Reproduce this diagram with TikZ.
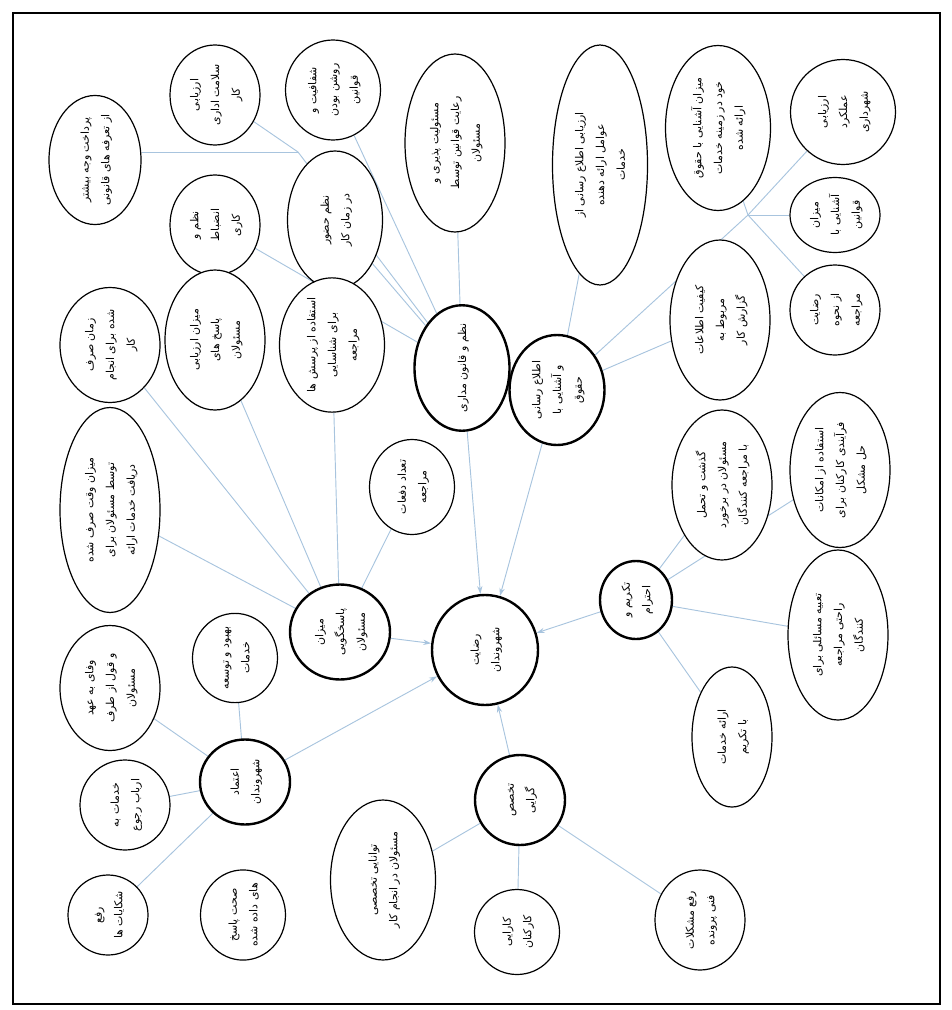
\documentclass[tikz,border=0pt]{standalone}
\usepackage{graphicx}
\usepackage{fontspec}
\newfontfamily\fa[Script=Arabic]{DejaVu Sans}
\TeXXeTstate=1
\usetikzlibrary{shapes.geometric,arrows.meta}
\pgfdeclarelayer{bg}
\pgfsetlayers{bg,main}
\definecolor{linkblue}{RGB}{168,196,222}
\newcommand{\rl}[1]{\beginR #1\endR}
\newcommand{\vt}[1]{\rotatebox{90}{\fa\fontsize{8.2}{15.5}\selectfont\begin{tabular}{@{}c@{}}#1\end{tabular}}}
\begin{document}
\begin{tikzpicture}[x=0.75pt,y=-0.75pt,
  sz/.style 2 args={minimum width={#1*0.75pt},minimum height={#2*0.75pt}},
  outer/.style={ellipse,draw,line width=0.9pt,inner sep=0pt,fill=white},
  cat/.style={ellipse,draw,line width=1.8pt,inner sep=0pt,fill=white},
  lk/.style={draw=linkblue,line width=0.7pt},
  ar/.style={lk,-{Stealth[length=6pt,width=4pt]}}]
\useasboundingbox (0,0) rectangle (952,1010);
\draw[line width=1.2pt] (13,13) rectangle (940,1004);

% junction coordinates
\coordinate (J0) at (298,152);
\coordinate (J1) at (748,215);

% ---- category nodes
\node[cat,sz={106}{110}] (C) at (485,650) {\vt{\rl{رضایت}\\\rl{شهروندان}}};
\node[cat,sz={100}{95}] (P) at (340,632) {\vt{\rl{میزان}\\\rl{پاسخگویی}\\\rl{مسئولان}}};
\node[cat,sz={95}{125}] (N) at (462,368) {\vt{\rl{نظم و قانون مداری}}};
\node[cat,sz={95}{110}] (I) at (557,390) {\vt{\rl{اطلاع رسانی}\\\rl{و آشنایی با}\\\rl{حقوق}}};
\node[cat,sz={72}{78}] (T) at (636,600) {\vt{\rl{تکریم و}\\\rl{احترام}}};
\node[cat,sz={90}{85}] (A) at (245,782) {\vt{\rl{اعتماد}\\\rl{شهروندان}}};
\node[cat,sz={90}{90}] (S) at (520,800) {\vt{\rl{تخصص}\\\rl{گرایی}}};

% ---- outer nodes
\node[outer,sz={92}{125}] (o1) at (95,160) {\vt{\rl{پرداخت وجه بیشتر}\\\rl{از تعرفه های قانونی}}};
\node[outer,sz={90}{100}] (o2) at (215,95) {\vt{\rl{ارزیابی}\\\rl{سلامت اداری}\\\rl{کار}}};
\node[outer,sz={95}{100}] (o3) at (333,90) {\vt{\rl{شفافیت و}\\\rl{روشن بودن}\\\rl{قوانین}}};
\node[outer,sz={100}{178}] (o4) at (455,143) {\vt{\rl{مسئولیت پذیری و}\\\rl{رعایت قوانین توسط}\\\rl{مسئولان}}};
\node[outer,sz={90}{100}] (o5) at (215,225) {\vt{\rl{نظم و}\\\rl{انضباط}\\\rl{کاری}}};
\node[outer,sz={95}{138}] (o6) at (335,220) {\vt{\rl{نظم حضور}\\\rl{در زمان کار}}};
\node[outer,sz={95}{240}] (o7) at (600,165) {\vt{\rl{ارزیابی اطلاع رسانی از}\\\rl{عوامل ارائه دهنده}\\\rl{خدمات}}};
\node[outer,sz={105}{165}] (o8) at (718,128) {\vt{\rl{میزان آشنایی با حقوق}\\\rl{خود در زمینه خدمات}\\\rl{ارائه شده}}};
\node[outer,sz={105}{105}] (o9) at (843,112) {\vt{\rl{ارزیابی}\\\rl{عملکرد}\\\rl{شهرداری}}};
\node[outer,sz={90}{75}] (o10) at (835,215) {\vt{\rl{میزان}\\\rl{آشنایی با}\\\rl{قوانین}}};
\node[outer,sz={100}{160}] (o11) at (720,320) {\vt{\rl{کیفیت اطلاعات}\\\rl{مربوط به}\\\rl{گزارش کار}}};
\node[outer,sz={90}{90}] (o12) at (835,310) {\vt{\rl{رضایت}\\\rl{از نحوه}\\\rl{مراجعه}}};
\node[outer,sz={100}{115}] (o13) at (110,345) {\vt{\rl{زمان صرف}\\\rl{شده برای انجام}\\\rl{کار}}};
\node[outer,sz={100}{140}] (o14) at (215,340) {\vt{\rl{میزان ارزیابی}\\\rl{پاسخ های}\\\rl{مسئولان}}};
\node[outer,sz={105}{130}] (o15) at (332,345) {\vt{\rl{استفاده از پرسش ها}\\\rl{برای شناسایی}\\\rl{مراجعه}}};
\node[outer,sz={100}{205}] (o16) at (110,510) {\vt{\rl{میزان وقت صرف شده}\\\rl{توسط مسئولان برای}\\\rl{دریافت خدمات ارائه}}};
\node[outer,sz={85}{95}] (o17) at (412,487) {\vt{\rl{تعداد دفعات}\\\rl{مراجعه}}};
\node[outer,sz={100}{125}] (o18) at (110,688) {\vt{\rl{وفای به عهد}\\\rl{و قول از طرف}\\\rl{مسئولان}}};
\node[outer,sz={85}{85}] (o19) at (235,658) {\vt{\rl{بهبود و توسعه}\\\rl{خدمات}}};
\node[outer,sz={90}{90}] (o20) at (125,805) {\vt{\rl{خدمات به}\\\rl{ارباب رجوع}}};
\node[outer,sz={80}{80}] (o21) at (108,915) {\vt{\rl{رفع}\\\rl{شکایات ها}}};
\node[outer,sz={85}{90}] (o22) at (243,915) {\vt{\rl{صحت پاسخ}\\\rl{های داده شده}}};
\node[outer,sz={105}{160}] (o23) at (383,880) {\vt{\rl{توانایی تخصصی}\\\rl{مسئولان در انجام کار}}};
\node[outer,sz={85}{85}] (o24) at (517,932) {\vt{\rl{کارایی}\\\rl{کارکنان}}};
\node[outer,sz={90}{100}] (o25) at (700,920) {\vt{\rl{رفع مشکلات}\\\rl{فنی پرونده}}};
\node[outer,sz={80}{140}] (o26) at (732,737) {\vt{\rl{ارائه خدمات}\\\rl{با تکریم}}};
\node[outer,sz={100}{170}] (o27) at (838,635) {\vt{\rl{تعبیه مسائلی برای}\\\rl{راحتی مراجعه}\\\rl{کنندگان}}};
\node[outer,sz={100}{155}] (o28) at (840,470) {\vt{\rl{استفاده از امکانات}\\\rl{فرآیندی کارکنان برای}\\\rl{حل مشکل}}};
\node[outer,sz={100}{150}] (o29) at (722,485) {\vt{\rl{گذشت و تحمل}\\\rl{مسئولان در برخورد}\\\rl{با مراجعه کنندگان}}};

% ---- connectors (behind the nodes)
\begin{pgfonlayer}{bg}
\foreach \a/\b in {J0/N,o3/N,o4/N,o5/N,o6/N,
                   o7/I,J1/I,o11/I,
                   o13/P,o14/P,o15/P,o16/P,o17/P,
                   o18/A,o19/A,o20/A,o21/A,
                   o23/S,o24/S,o25/S,
                   o26/T,o27/T,o28/T,o29/T}
  \draw[lk] (\a) -- (\b);
\draw[lk] (o1.east |- J0) -- (J0);
\draw[lk] (o2) -- (J0);
\foreach \a in {o8,o9,o10,o12}
  \draw[lk] (\a) -- (J1);
\foreach \a in {P,N,I,T,A,S}
  \draw[ar] (\a) -- (C);
\end{pgfonlayer}
\end{tikzpicture}
\end{document}
